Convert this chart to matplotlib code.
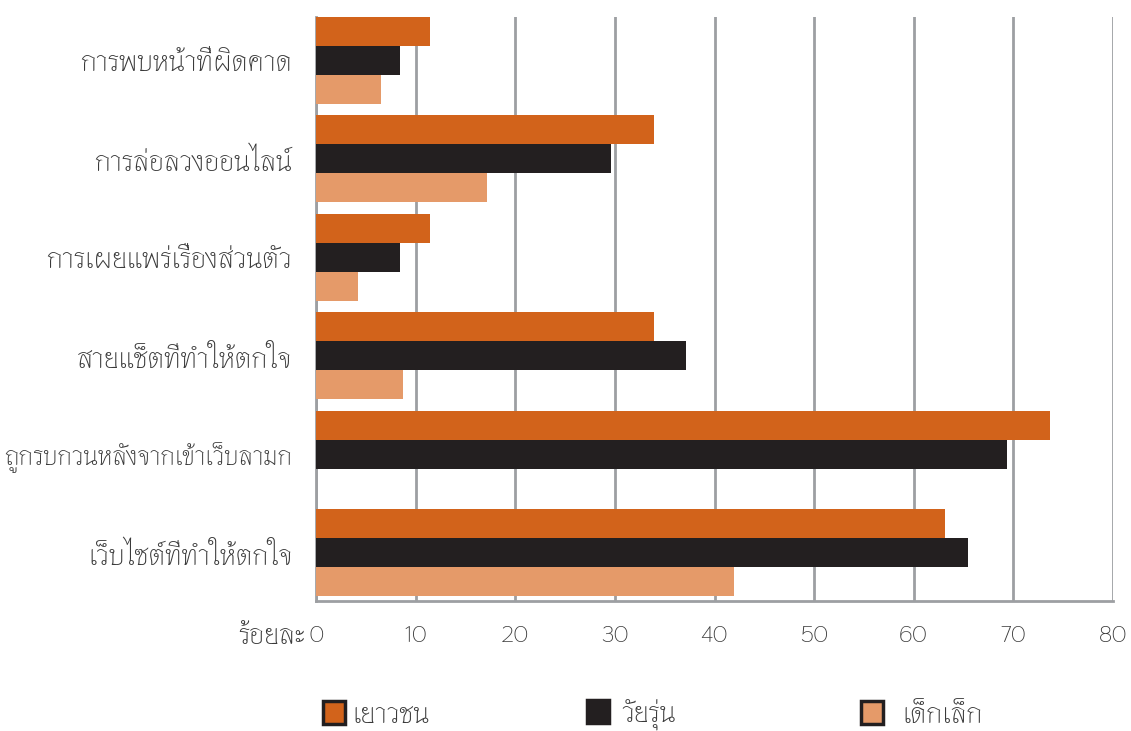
import matplotlib
matplotlib.use("Agg")
import matplotlib.pyplot as plt
import numpy as np

# ---- data ----
categories = ["การพบหน้าที่ผิดคาด", "การล่อลวงออนไลน์", "การเผยแพร่เรื่องส่วนตัว",
              "สายแช็ตที่ทำให้ตกใจ", "ถูกรบกวนหลังจากเข้าเว็บลามก", "เว็บไซต์ที่ทำให้ตกใจ"]
series_names = ["เยาวชน", "วัยรุ่น", "เด็กเล็ก"]
youth = [11.4, 33.9, 11.4, 33.9, 73.7, 63.1]
teen = [8.4, 29.6, 8.4, 37.1, 69.4, 65.4]
kids = [6.5, 17.2, 4.2, 8.7, 0.0, 42.0]
xticks = [0, 10, 20, 30, 40, 50, 60, 70, 80]
xlabel_text = "ร้อยละ"

plt.rcParams['font.family'] = ['Thasadith', 'Sarabun', 'DejaVu Sans']

colors = ["#D2631B", "#231F20", "#E59A69"]
txt = "#3a3a3a"
grid = "#9D9FA2"

W, H = 1131, 731
fig = plt.figure(figsize=(W/100, H/100), dpi=100)
ax = fig.add_axes([316/W, 1-601/H, (1113-316)/W, (601-17)/H])

h = 0.295
y = np.arange(len(categories))
vals = [youth, teen, kids]
bars = []
for j, (v, c, n) in enumerate(zip(vals, colors, series_names)):
    bars.append(ax.barh(y + (j-1)*h, v, height=h, color=c, label=n, zorder=3))

ax.set_xlim(0, 80)
ax.set_ylim(5 + 1.5*h + 0.05, -1.5*h)
ax.set_xticks(xticks)
ax.set_yticks(y)
ax.set_yticklabels(categories, fontsize=21)
for lab in ax.get_yticklabels():
    if len(lab.get_text()) > 24:
        lab.set_fontsize(19)
ax.tick_params(axis='both', length=0, colors=txt)
ax.tick_params(axis='x', labelsize=17, pad=17)
ax.tick_params(axis='y', pad=17)
ax.grid(axis='x', color=grid, linewidth=2, zorder=0)
for s in ['top', 'right']:
    ax.spines[s].set_visible(False)
for s in ['left', 'bottom']:
    ax.spines[s].set_color(grid)
    ax.spines[s].set_linewidth(2)

fig.text(305/W, 1-636/H, xlabel_text, ha='right', va='center', fontsize=21, color=txt)

fs_leg = 21
em = fs_leg * 100 / 72
legend_pos = [(323, 7), (587, 12), (861, 19)]
for b, n, (hx, gap) in zip(bars, series_names, legend_pos):
    leg = fig.legend([b], [n], loc='center left', bbox_to_anchor=(hx/W, 1-714/H),
                     frameon=False, borderpad=0, borderaxespad=0, fontsize=fs_leg,
                     handlelength=22/em, handleheight=24/em, handletextpad=gap/em,
                     labelcolor=txt)
    for p in leg.legend_handles:
        p.set_edgecolor("#231F20")
        p.set_linewidth(2.5)

fig.savefig("out.png", dpi=100)
